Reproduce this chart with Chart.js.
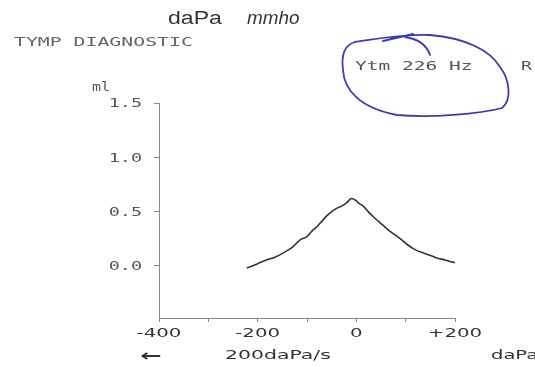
<!DOCTYPE html>
<html>
<head>
<meta charset="utf-8">
<script src="https://cdn.jsdelivr.net/npm/chart.js@4"></script>
<style>
  body { margin: 0; background: #fff; }
  canvas { display: block; }
</style>
</head>
<body>
<canvas id="tymp" width="535" height="367"></canvas>
<script>
// pressure (daPa) vs admittance (ml)
var pressure = [-222, -200, -185, -165, -148, -130, -114, -100, -90, -80, -70, -60, -50, -40, -30, -20, -10, 0, 4, 14, 24, 35, 45, 55, 65, 80, 92, 105, 119, 135, 153, 165, 180, 190, 200];
var admittance = [-0.02, 0.02, 0.05, 0.08, 0.12, 0.17, 0.24, 0.27, 0.32, 0.36, 0.41, 0.46, 0.50, 0.53, 0.55, 0.58, 0.62, 0.60, 0.58, 0.55, 0.50, 0.45, 0.41, 0.37, 0.33, 0.28, 0.24, 0.19, 0.15, 0.12, 0.09, 0.07, 0.055, 0.04, 0.03];
var xTicks = [-400, -300, -200, -100, 0, 100, 200];
var xLabels = ['-400', '', '-200', '', '0', '', '+200'];
var yTicks = [0, 0.5, 1.0, 1.5];
var yLabels = ['0.0', '0.5', '1.0', '1.5'];

var printGray = '#555';

// the printout is stretched sideways, so text is drawn with a horizontal scale
function stext(ctx, txt, x, y, font, color, sx, align) {
    ctx.save();
    ctx.font = font;
    ctx.fillStyle = color;
    ctx.textBaseline = 'middle';
    ctx.textAlign = 'left';
    var w = ctx.measureText(txt).width * sx;
    if (align === 'right') x -= w;
    if (align === 'center') x -= w / 2;
    ctx.translate(x, y);
    ctx.scale(sx, 1);
    ctx.fillText(txt, 0, 0);
    ctx.restore();
}

var decor = {
    id: 'decor',
    afterDraw: function(chart) {
        var ctx = chart.ctx;
        var xs = chart.scales.x, ys = chart.scales.y;

        // tick labels, placed by the chart's scales
        xTicks.forEach(function(v, i) {
            if (xLabels[i]) stext(ctx, xLabels[i], xs.getPixelForValue(v), 334, '13px "DejaVu Sans"', '#333', 1.52, 'center');
        });
        yTicks.forEach(function(v, i) {
            stext(ctx, yLabels[i], ys.left + ys.width - 17, ys.getPixelForValue(v) + 1, '13px "DejaVu Sans Mono"', printGray, 1.42, 'right');
        });

        stext(ctx, 'daPa', 168, 19, '18px "Liberation Sans"', '#333', 1.28, 'left');
        stext(ctx, 'mmho', 247, 19, 'italic 18px "Liberation Sans"', '#333', 1.05, 'left');
        stext(ctx, 'TYMP DIAGNOSTIC', 14, 43, '12px "DejaVu Sans Mono"', '#666', 1.65, 'left');
        stext(ctx, 'Ytm 226 Hz', 355, 67, '13px "DejaVu Sans Mono"', printGray, 1.5, 'left');
        stext(ctx, 'R', 521, 67, '13px "DejaVu Sans Mono"', printGray, 1.4, 'left');
        stext(ctx, 'ml', 92, 88, '13px "DejaVu Sans Mono"', printGray, 1.15, 'left');
        stext(ctx, '\u2190', 140, 357, 'bold 16px "DejaVu Sans"', '#333', 1.6, 'left');
        stext(ctx, '200daPa/s', 225, 356, '13px "DejaVu Sans"', '#333', 1.57, 'left');
        stext(ctx, 'daPa', 491, 356, '13px "DejaVu Sans"', '#333', 1.5, 'left');

        // blue pen circle around the probe tone
        ctx.save();
        ctx.strokeStyle = '#3b3bb3';
        ctx.lineWidth = 1.8;
        ctx.lineCap = 'round';
        ctx.beginPath();
        ctx.moveTo(355, 42);
        ctx.bezierCurveTo(345, 45, 341, 55, 343, 70);
        ctx.bezierCurveTo(344, 90, 360, 108, 397, 115);
        ctx.bezierCurveTo(430, 118, 480, 114, 502, 108);
        ctx.bezierCurveTo(512, 100, 510, 80, 500, 67);
        ctx.bezierCurveTo(490, 50, 465, 38, 430, 35);
        ctx.bezierCurveTo(400, 34, 370, 40, 355, 42);
        ctx.moveTo(430, 55);
        ctx.quadraticCurveTo(425, 40, 405, 37);
        ctx.moveTo(383, 41);
        ctx.lineTo(413, 34);
        ctx.stroke();
        ctx.restore();
    }
};

var points = pressure.map(function(p, i) { return { x: p, y: admittance[i] }; });

new Chart(document.getElementById('tymp').getContext('2d'), {
    type: 'line',
    data: {
        datasets: [{
            label: 'Ytm',
            data: points,
            borderColor: '#333',
            borderWidth: 1.6,
            pointRadius: 0,
            tension: 0.3,
            fill: false
        }]
    },
    options: {
        responsive: false,
        animation: false,
        layout: { padding: { left: 99, top: 103, right: 80, bottom: 24 } },
        plugins: {
            legend: { display: false },
            tooltip: { enabled: false }
        },
        scales: {
            x: {
                type: 'linear',
                min: -400,
                max: 200,
                afterBuildTicks: function(s) { s.ticks = xTicks.map(function(v) { return { value: v }; }); },
                afterFit: function(s) { s.height = 25; },
                ticks: { display: false },
                grid: { drawOnChartArea: false, tickLength: 4, color: '#888' },
                border: { color: '#888', width: 1 }
            },
            y: {
                min: -0.48,
                max: 1.5,
                afterBuildTicks: function(s) { s.ticks = yTicks.map(function(v) { return { value: v }; }); },
                afterFit: function(s) { s.width = 60; },
                ticks: { display: false },
                grid: { drawOnChartArea: false, tickLength: 5, color: '#888' },
                border: { color: '#888', width: 1 }
            }
        }
    },
    plugins: [decor]
});
</script>
</body>
</html>
